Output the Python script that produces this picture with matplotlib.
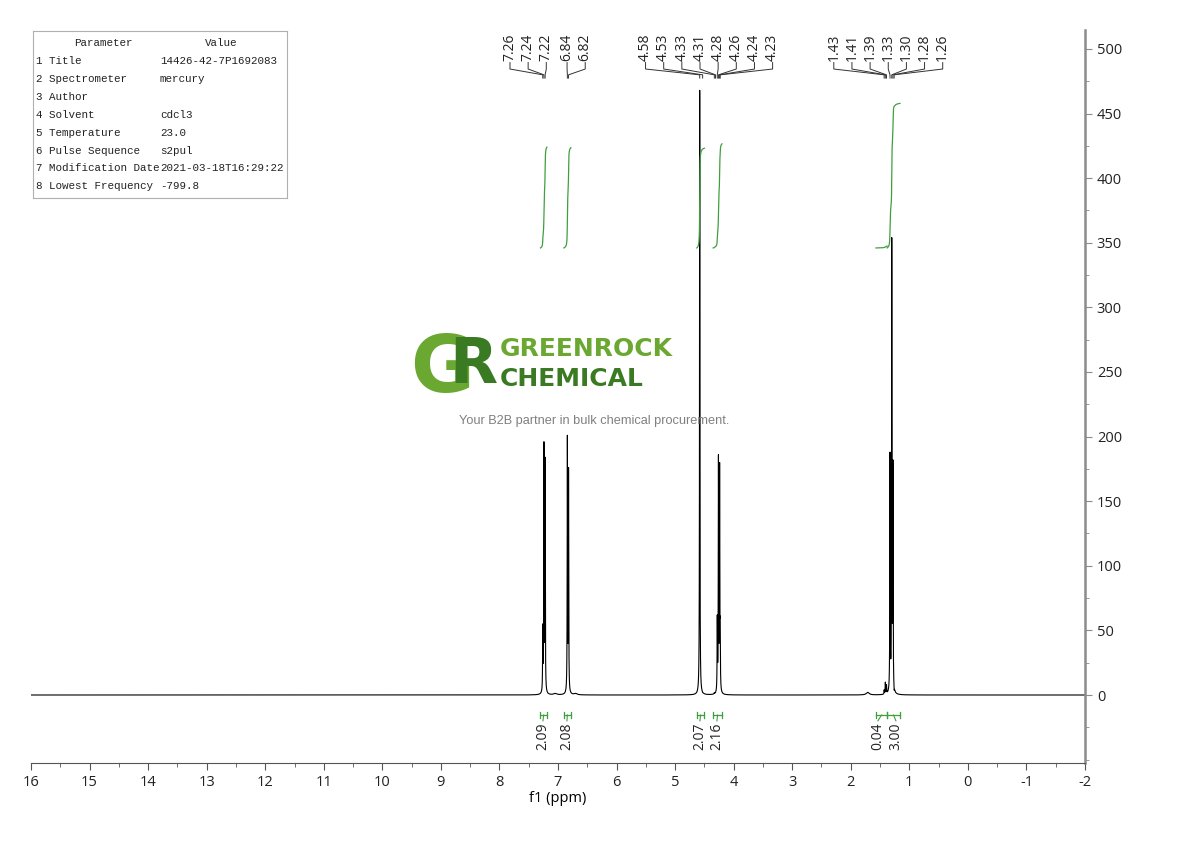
import numpy as np
import matplotlib
matplotlib.use('Agg')
import matplotlib.pyplot as plt
from matplotlib.ticker import MultipleLocator

plt.rcParams['font.family'] = ['Open Sans', 'DejaVu Sans']
plt.rcParams['axes.unicode_minus'] = False

# peak list (ppm, apparent height)
peak_ppm = [7.26, 7.24, 7.22, 6.84, 6.82, 4.58, 4.53, 4.33, 4.31,
            4.28, 4.26, 4.24, 4.23, 1.43, 1.41, 1.39, 1.33, 1.30, 1.28, 1.26]
peak_height = [55, 196, 184, 201, 176, 468, 2, 2, 2,
               62, 186, 180, 60, 4, 10, 8, 188, 354, 182, 4]
# small broad humps in the baseline
hump_ppm = [7.05, 6.70, 1.71]
hump_height = [1.0, 1.0, 2.0]

# peak label groups at the top (ppm of the peaks, centre of the label fan)
label_groups = [[7.26, 7.24, 7.22], [6.84, 6.82],
                [4.58, 4.53, 4.33, 4.31, 4.28, 4.26, 4.24, 4.23],
                [1.43, 1.41, 1.39, 1.33, 1.30, 1.28, 1.26]]
label_centres = [7.51, 6.69, 4.42, 1.36]

# integrals: range (from, to), value, label position
int_from = [7.30, 6.90, 4.63, 4.35, 1.57, 1.38]
int_to = [7.19, 6.78, 4.50, 4.20, 1.38, 1.16]
int_value = [2.09, 2.08, 2.07, 2.16, 0.04, 3.00]
int_label_x = [7.257, 6.847, 4.576, 4.286, 1.537, 1.229]

params = ['1 Title', '2 Spectrometer', '3 Author', '4 Solvent', '5 Temperature',
          '6 Pulse Sequence', '7 Modification Date', '8 Lowest Frequency']
values = ['14426-42-7P1692083', 'mercury', '', 'cdcl3', '23.0', 's2pul',
          '2021-03-18T16:29:22', '-799.8']

W, H = 1190, 841
green = '#3f9f3f'

def lor(x, x0, g):
    return 1.0 / (1.0 + ((x - x0) / g) ** 2)

# Build spectrum from the peak list
gam = 0.0035
x = np.linspace(16, -2, 240001)
pp = np.array(peak_ppm)
A = lor(pp[:, None], pp[None, :], gam)
amps = np.linalg.solve(A, np.array(peak_height, dtype=float))
y = np.zeros_like(x)
for p, a in zip(peak_ppm, amps):
    y += a * lor(x, p, gam)
for p, h in zip(hump_ppm, hump_height):
    y += h * lor(x, p, 0.03)

fig = plt.figure(figsize=(W / 100, H / 100), dpi=100)
ax = fig.add_axes([31 / W, 78 / H, (1085 - 31) / W, (763 - 30) / H])
ax.plot(x, y, color='black', lw=0.8)
ax.set_xlim(16, -2)
ax.set_ylim(-52.63, 514.7)

ax.spines['left'].set_visible(False)
ax.spines['top'].set_visible(False)
ax.spines['right'].set_color('#8c8c8c')
ax.spines['right'].set_linewidth(1.8)
ax.spines['bottom'].set_color('#555555')
ax.yaxis.tick_right()
ax.set_yticks(np.arange(0, 501, 50))
ax.yaxis.set_minor_locator(MultipleLocator(25))
ax.xaxis.set_major_locator(MultipleLocator(1))
ax.xaxis.set_minor_locator(MultipleLocator(0.5))
ax.tick_params(axis='both', which='both', direction='out', labelsize=10.5,
               labelcolor='#222222')
ax.tick_params(axis='y', which='both', colors='#8c8c8c', labelcolor='#222222')
ax.tick_params(axis='x', which='both', colors='#555555', labelcolor='#222222')
ax.tick_params(which='major', length=5)
ax.tick_params(which='minor', length=3)
ax.set_xlabel('f1 (ppm)', fontsize=10.5, labelpad=1)

# Peak labels with fan connectors
step = 0.31
for grp, c in zip(label_groups, label_centres):
    n = len(grp)
    for i, p in enumerate(grp):
        lx = c + (n - 1) / 2 * step - i * step
        ax.text(lx, 490.5, '%.2f' % p, rotation=90, ha='center', va='bottom',
                fontsize=10, color='#222222', clip_on=False)
        ax.plot([lx, lx, p, p], [489.5, 484.5, 480, 477.5], color='#333333', lw=0.7)

# Integral curves, brackets and values
y_start = 346.0
scale = 37.3
for f, t, v, lx in zip(int_from, int_to, int_value, int_label_x):
    m = (x <= f) & (x >= t)
    seg = y[m]
    cum = np.cumsum(seg)
    cum = cum / cum[-1]
    ax.plot(x[m], y_start + cum * scale * v, color=green, lw=0.9)
    ax.plot([f, t], [-15.5, -15.5], color=green, lw=0.9)
    ax.plot([f, f], [-13, -18], color=green, lw=0.9)
    ax.plot([t, t], [-13, -18], color=green, lw=0.9)
    cx = (f + t) / 2
    ax.plot([cx, lx], [-15.5, -20], color=green, lw=0.8)
    ax.text(lx, -21, '%.2f' % v, rotation=90, ha='center', va='top',
            fontsize=10, color='#222222')

# Parameter table
def px(xp, yp):
    return xp / W, 1 - yp / H

tab = fig.add_axes([33 / W, 1 - 198 / H, 254 / W, 167 / H])
tab.set_xticks([])
tab.set_yticks([])
tab.patch.set_alpha(0)
for s in tab.spines.values():
    s.set_color('#b0b0b0')
tfont = dict(family='Liberation Mono', fontsize=7.8, color='#222222', va='center')
fig.text(*px(103, 43), 'Parameter', ha='center', **tfont)
fig.text(*px(221, 43), 'Value', ha='center', **tfont)
for i, (pn, pv) in enumerate(zip(params, values)):
    yy = 61 + i * 17.9
    fig.text(*px(36, yy), pn, ha='left', **tfont)
    fig.text(*px(160, yy), pv, ha='left', **tfont)

# Watermark logo
fig.text(*px(410, 370), 'G', fontsize=56, fontweight='bold', color='#6aa832',
         family='DejaVu Sans', ha='left', va='center')
fig.text(*px(449, 366), 'R', fontsize=45, fontweight='bold', color='#3a7a22',
         family='DejaVu Sans', ha='left', va='center')
fig.text(*px(500, 349), 'GREENROCK', fontsize=18, fontweight='bold', color='#6aa832',
         family='DejaVu Sans', ha='left', va='center')
fig.text(*px(500, 379), 'CHEMICAL', fontsize=18, fontweight='bold', color='#3a7a22',
         family='DejaVu Sans', ha='left', va='center')
fig.text(*px(594, 421), 'Your B2B partner in bulk chemical procurement.', fontsize=9.2,
         color='#808080', family='Liberation Sans', ha='center', va='center')

fig.savefig('out.png', dpi=100)
